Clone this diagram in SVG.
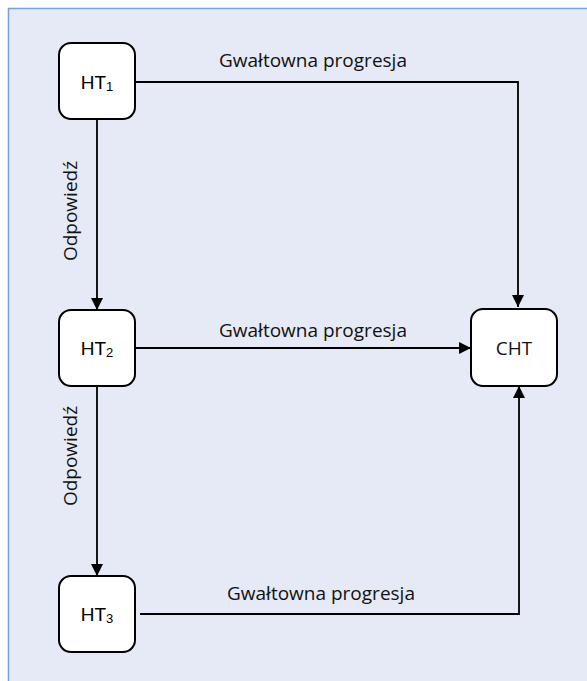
<svg xmlns="http://www.w3.org/2000/svg" width="587" height="681" viewBox="0 0 587 681">
<defs>
<marker id="arr" viewBox="0 0 12 12" refX="12" refY="6" markerWidth="12" markerHeight="12" markerUnits="userSpaceOnUse" orient="auto">
<path d="M0,0 L12,6 L0,12 z" fill="#000"/>
</marker>
<style>
.node{fill:#fff;stroke:#000;stroke-width:2}
.edge{fill:none;stroke:#000;stroke-width:1.8}
.lbl{font-family:"Open Sans","Noto Sans",sans-serif;font-size:19px;fill:#111}
.ht{font-family:"Liberation Sans",Arial,sans-serif;font-size:19px;fill:#000}
.sub{font-size:13px}
</style>
</defs>
<rect x="8.5" y="8.5" width="590" height="690" fill="#e6eaf6" stroke="#7aa2d6" stroke-width="1.5"/>
<g id="connectors">
<path class="edge" d="M135,82 H518 V307" marker-end="url(#arr)"/>
<path class="edge" d="M97,119 V310" marker-end="url(#arr)"/>
<path class="edge" d="M135,348 H471" marker-end="url(#arr)"/>
<path class="edge" d="M97,386 V576" marker-end="url(#arr)"/>
<path class="edge" d="M140,614 H519 V386" marker-end="url(#arr)"/>
<text class="lbl" x="313" y="67" text-anchor="middle">Gwałtowna progresja</text>
<text class="lbl" x="313" y="337" text-anchor="middle">Gwałtowna progresja</text>
<text class="lbl" x="321" y="600" text-anchor="middle">Gwałtowna progresja</text>
<text class="lbl" x="77" y="211" text-anchor="middle" transform="rotate(-90 77 211)">Odpowiedź</text>
<text class="lbl" x="77" y="456" text-anchor="middle" transform="rotate(-90 77 456)">Odpowiedź</text>
</g>
<g id="HT1">
<rect class="node" x="59" y="43" width="76" height="76" rx="12"/>
<text class="ht" x="97" y="89" text-anchor="middle">HT<tspan class="sub" dy="2">1</tspan></text>
</g>
<g id="HT2">
<rect class="node" x="59" y="310" width="76" height="76" rx="12"/>
<text class="ht" x="97" y="355" text-anchor="middle">HT<tspan class="sub" dy="2">2</tspan></text>
</g>
<g id="HT3">
<rect class="node" x="59" y="576" width="76" height="76" rx="12"/>
<text class="ht" x="97" y="621" text-anchor="middle">HT<tspan class="sub" dy="2">3</tspan></text>
</g>
<g id="CHT">
<rect class="node" x="471" y="309" width="86" height="77" rx="12"/>
<text class="lbl" x="514" y="355" text-anchor="middle">CHT</text>
</g>
</svg>
